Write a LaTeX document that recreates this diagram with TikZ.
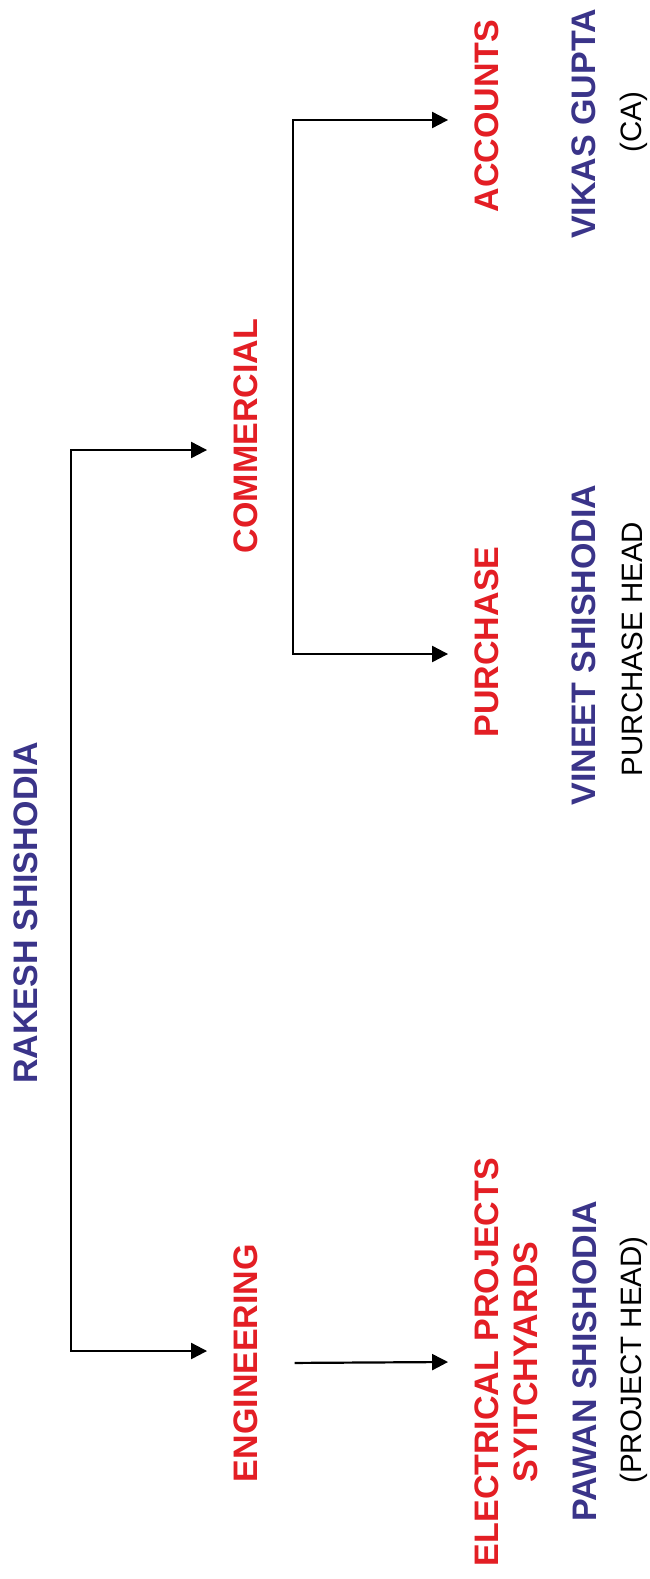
\documentclass[tikz,border=0pt]{standalone}
\usepackage{fontspec}
\setmainfont{Liberation Sans}
\usepackage{xcolor}
\usetikzlibrary{arrows.meta,calc}
\definecolor{bg}{HTML}{FFFFFF}
\definecolor{deptred}{HTML}{E31E24}
\definecolor{navy}{HTML}{3A3489}
\definecolor{ink}{HTML}{000000}
\tikzset{
  base/.style={draw=ink, line width=2.2pt, line join=miter},
  deptlab/.style={text=deptred, font=\bfseries\fontsize{34}{40}\selectfont, rotate=90, anchor=base, inner xsep=0pt, inner ysep=26pt},
  namelab/.style={text=navy, font=\bfseries\fontsize{34}{40}\selectfont, rotate=90, anchor=base, inner sep=0pt},
  rolelab/.style={text=ink, font=\fontsize{29.5}{35}\selectfont, rotate=90, anchor=base, inner sep=0pt}
}

\begin{document}
\begin{tikzpicture}[x=1pt, y=-1pt, >={Triangle[length=16pt,width=16pt]}]
  \path[fill=bg] (0,0) rectangle (649,1579);
  \useasboundingbox (0,0) rectangle (649,1579);

  % head
  \node[namelab] (rakesh) at (37,913) {RAKESH SHISHODIA};

  % departments
  \node[deptlab] (commercial) at (257,436) {COMMERCIAL};
  \node[deptlab] (engineering) at (257,1363) {ENGINEERING};
  \node[deptlab] (accounts) at (498,116) {ACCOUNTS};
  \node[deptlab] (purchase) at (498,642) {PURCHASE};
  \node[deptlab] (electrical) at (498,1362) {ELECTRICAL PROJECTS};
  \node[deptlab] (switchyard) at (537,1362) {SYITCHYARDS};

  % people
  \node[namelab] (vikas) at (595,124) {VIKAS GUPTA};
  \node[rolelab] (vikasrole) at (641,122) {(CA)};
  \node[namelab] (vineet) at (595,645) {VINEET SHISHODIA};
  \node[rolelab] (vineetrole) at (642,649) {PURCHASE HEAD};
  \node[namelab] (pawan) at (596,1361) {PAWAN SHISHODIA};
  \node[rolelab] (pawanrole) at (641,1360) {(PROJECT HEAD)};

  % connectors
  \coordinate (rootTop) at (70.7,450);
  \coordinate (rootBot) at (70.7,1351);
  \draw[base,<->] (rootTop -| commercial.north) -| (rootBot) -- (rootBot -| engineering.north);
  \coordinate (comTop) at (293,120);
  \coordinate (comBot) at (293,654);
  \draw[base,<->] (comTop -| accounts.north) -| (comBot) -- (comBot -| purchase.north);
  \draw[base,->,shorten <=11pt] (engineering.south) -- (electrical.north);
\end{tikzpicture}
\end{document}
